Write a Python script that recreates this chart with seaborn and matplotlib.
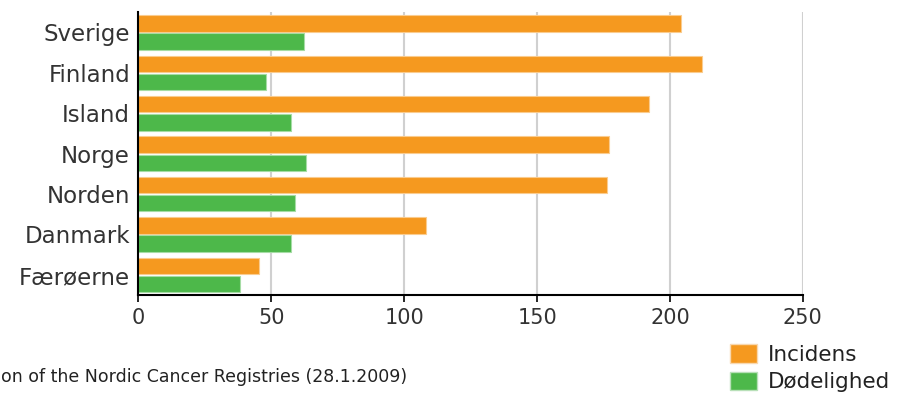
import matplotlib
matplotlib.use("Agg")
import matplotlib.pyplot as plt
import seaborn as sns
import pandas as pd
from matplotlib.patches import Patch

countries = ["Sverige", "Finland", "Island", "Norge", "Norden", "Danmark", "Færøerne"]
incidens = [204.2, 212.1, 192.1, 177.0, 176.5, 108.1, 45.3]
doedelighed = [62.4, 48.1, 57.3, 63.1, 58.8, 57.3, 38.2]
series_names = ["Incidens", "Dødelighed"]
x_ticks = [0, 50, 100, 150, 200, 250]
source_text = "on of the Nordic Cancer Registries (28.1.2009)"

colors = {"Incidens": "#F5991F", "Dødelighed": "#4DB84A"}

df = pd.DataFrame({
    "land": countries * 2,
    "værdi": incidens + doedelighed,
    "serie": [series_names[0]] * len(countries) + [series_names[1]] * len(countries),
})

sns.set_theme(style="white")
plt.rcParams["font.family"] = ["DejaVu Sans"]

fig = plt.figure(figsize=(8.99, 3.94), dpi=100)
ax = fig.add_axes([0.154, 0.251, 0.739, 0.718])

sns.barplot(data=df, y="land", x="værdi", hue="serie", order=countries,
            hue_order=series_names, palette=colors, orient="h", saturation=1,
            width=0.9, gap=0.1, ax=ax, legend=False, errorbar=None)

for bar in ax.patches:
    fc = bar.get_facecolor()
    ec = tuple(min(1.0, c * 0.5 + 0.5) for c in fc[:3])
    bar.set_edgecolor(ec)
    bar.set_linewidth(0.8)

ax.set_xlim(0, 250)
ax.set_ylim(len(countries) - 0.5, -0.5)
ax.set_xticks(x_ticks)
ax.set_xticklabels([str(t) for t in x_ticks], fontsize=15, color="#333333")
ax.tick_params(axis="y", labelsize=16.5, labelcolor="#333333", length=3, color="#bbbbbb", pad=3)
ax.tick_params(axis="x", length=5, color="black", width=1.2, pad=4, bottom=True)
ax.set_xlabel("")
ax.set_ylabel("")
ax.xaxis.grid(True, color="#d0d0d0", linewidth=1.5)
ax.set_axisbelow(True)
for s in ["top", "right"]:
    ax.spines[s].set_visible(False)
for s in ["left", "bottom"]:
    ax.spines[s].set_color("black")
    ax.spines[s].set_linewidth(1.5)

fig.text(1 / 899, 1 - 377 / 394, source_text, ha="left", va="center",
         fontsize=12.5, family=["DejaVu Sans"], color="#222222")

handles = [Patch(facecolor=colors[n], edgecolor="#f8d8b0" if n == "Incidens" else "#b8e0b8") for n in series_names]
fig.legend(handles, series_names, loc="upper left", bbox_to_anchor=(724 / 899, 1 - 338 / 394),
           frameon=False, fontsize=15.5, handlelength=1.25, handleheight=0.95,
           handletextpad=0.5, labelspacing=0.3, borderaxespad=0, borderpad=0.3,
           labelcolor="#222222")

fig.savefig("out.png", dpi=100)
